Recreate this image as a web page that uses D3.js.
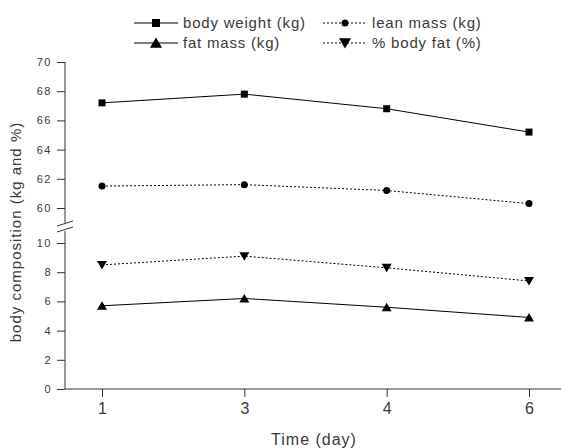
<!DOCTYPE html>
<html>
<head>
<meta charset="utf-8">
<script src="https://cdn.jsdelivr.net/npm/d3@7"></script>
<style>
  body { margin: 0; background: #fff; }
  svg { display: block; }
  text { font-family: Arial, "Liberation Sans", sans-serif; fill: #3a3a3a; }
</style>
</head>
<body>
<div id="chart"></div>
<script>
// datos
const days = ["1", "3", "4", "6"];
const bodyWeight = [67.2, 67.8, 66.8, 65.2];
const leanMass = [61.5, 61.6, 61.2, 60.3];
const bodyFatPct = [8.5, 9.1, 8.3, 7.4];
const fatMass = [5.7, 6.2, 5.6, 4.9];
const topTicks = [60, 62, 64, 66, 68, 70];
const bottomTicks = [0, 2, 4, 6, 8, 10];

const width = 561, height = 448;

const svg = d3.select("#chart").append("svg")
    .attr("width", width)
    .attr("height", height);

// escalas: eje y partido en dos tramos
const x = d3.scalePoint().domain(days).range([102, 529]);
const yTop = d3.scaleLinear().domain([60, 70]).range([208, 62]);
const yBot = d3.scaleLinear().domain([0, 10]).range([389, 243]);
const axisX = 65;

// ejes y
function yAxis(scale, ticks) {
  const g = svg.append("g")
      .attr("transform", `translate(${axisX},0)`)
      .call(d3.axisLeft(scale).tickValues(ticks).tickSize(8).tickPadding(5));
  g.select(".domain").remove();
  g.selectAll("line").attr("stroke", "#333");
  g.selectAll("text")
      .attr("font-size", 11)
      .attr("letter-spacing", "1.5px")
      .attr("fill", "#3a3a3a");
}
yAxis(yTop, topTicks);
yAxis(yBot, bottomTicks);

// linea del eje y con el corte
svg.append("line")
    .attr("x1", axisX).attr("x2", axisX)
    .attr("y1", yTop(70)).attr("y2", yTop(60) + 15)
    .attr("stroke", "#333");
svg.append("line")
    .attr("x1", axisX).attr("x2", axisX)
    .attr("y1", yBot(10) - 12).attr("y2", yBot(0))
    .attr("stroke", "#333");
[0, 6].forEach(function(off) {
  svg.append("line")
      .attr("x1", axisX - 8).attr("y1", yTop(60) + 18 + off)
      .attr("x2", axisX + 8).attr("y2", yTop(60) + 13 + off)
      .attr("stroke", "#333");
});

// eje x
const gx = svg.append("g")
    .attr("transform", `translate(0,${yBot(0)})`)
    .call(d3.axisBottom(x).tickSize(8).tickPadding(6));
gx.select(".domain").remove();
gx.selectAll("line").attr("stroke", "#333");
gx.selectAll("text")
    .attr("font-size", 16)
    .attr("fill", "#3a3a3a");
svg.append("line")
    .attr("x1", axisX).attr("x2", width)
    .attr("y1", yBot(0)).attr("y2", yBot(0))
    .attr("stroke", "#333");

// titulos de ejes
svg.append("text")
    .attr("x", 314).attr("y", 445)
    .attr("text-anchor", "middle")
    .attr("font-size", 16)
    .attr("letter-spacing", "1px")
    .text("Time (day)");

svg.append("text")
    .attr("transform", "translate(21,232) rotate(-90)")
    .attr("text-anchor", "middle")
    .attr("font-size", 15)
    .attr("letter-spacing", "1px")
    .text("body composition (kg and %)");

// marcadores
function marker(g, type, cx, cy, s) {
  if (type === "square") {
    g.append("rect").attr("x", cx - s / 2).attr("y", cy - s / 2)
        .attr("width", s).attr("height", s).attr("fill", "#000");
  } else if (type === "circle") {
    g.append("circle").attr("cx", cx).attr("cy", cy).attr("r", s / 2).attr("fill", "#000");
  } else if (type === "up") {
    g.append("path").attr("d", `M${cx - s / 2},${cy + s * 0.4}L${cx + s / 2},${cy + s * 0.4}L${cx},${cy - s * 0.45}Z`)
        .attr("fill", "#000");
  } else {
    g.append("path").attr("d", `M${cx - s / 2},${cy - s * 0.4}L${cx + s / 2},${cy - s * 0.4}L${cx},${cy + s * 0.45}Z`)
        .attr("fill", "#000");
  }
}

const series = [
  { name: "body weight (kg)", values: bodyWeight, y: yTop, type: "square", dash: null, size: 7 },
  { name: "lean mass (kg)", values: leanMass, y: yTop, type: "circle", dash: "2,2", size: 7 },
  { name: "fat mass (kg)", values: fatMass, y: yBot, type: "up", dash: null, size: 10 },
  { name: "% body fat (%)", values: bodyFatPct, y: yBot, type: "down", dash: "2,2", size: 10 }
];

series.forEach(function(s) {
  const line = d3.line()
      .x((d, i) => x(days[i]))
      .y(d => s.y(d));
  svg.append("path")
      .datum(s.values)
      .attr("d", line)
      .attr("fill", "none")
      .attr("stroke", "#000")
      .attr("stroke-width", 1)
      .attr("stroke-dasharray", s.dash);
  const g = svg.append("g");
  s.values.forEach(function(v, i) {
    marker(g, s.type, x(days[i]), s.y(v), s.size);
  });
});

// leyenda
const legendPos = [
  { x: 134, y: 23 }, { x: 323, y: 23 },
  { x: 134, y: 43 }, { x: 323, y: 43 }
];
series.forEach(function(s, i) {
  const p = legendPos[i];
  const g = svg.append("g");
  g.append("line")
      .attr("x1", p.x).attr("x2", p.x + 44)
      .attr("y1", p.y).attr("y2", p.y)
      .attr("stroke", "#000")
      .attr("stroke-dasharray", s.dash);
  marker(g, s.type, p.x + 22, p.y, s.type === "square" ? 8 : (s.type === "circle" ? 7 : 12));
  g.append("text")
      .attr("x", p.x + 49).attr("y", p.y + 5)
      .attr("font-size", 15)
      .attr("letter-spacing", "0.8px")
      .text(s.name);
});
</script>
</body>
</html>
